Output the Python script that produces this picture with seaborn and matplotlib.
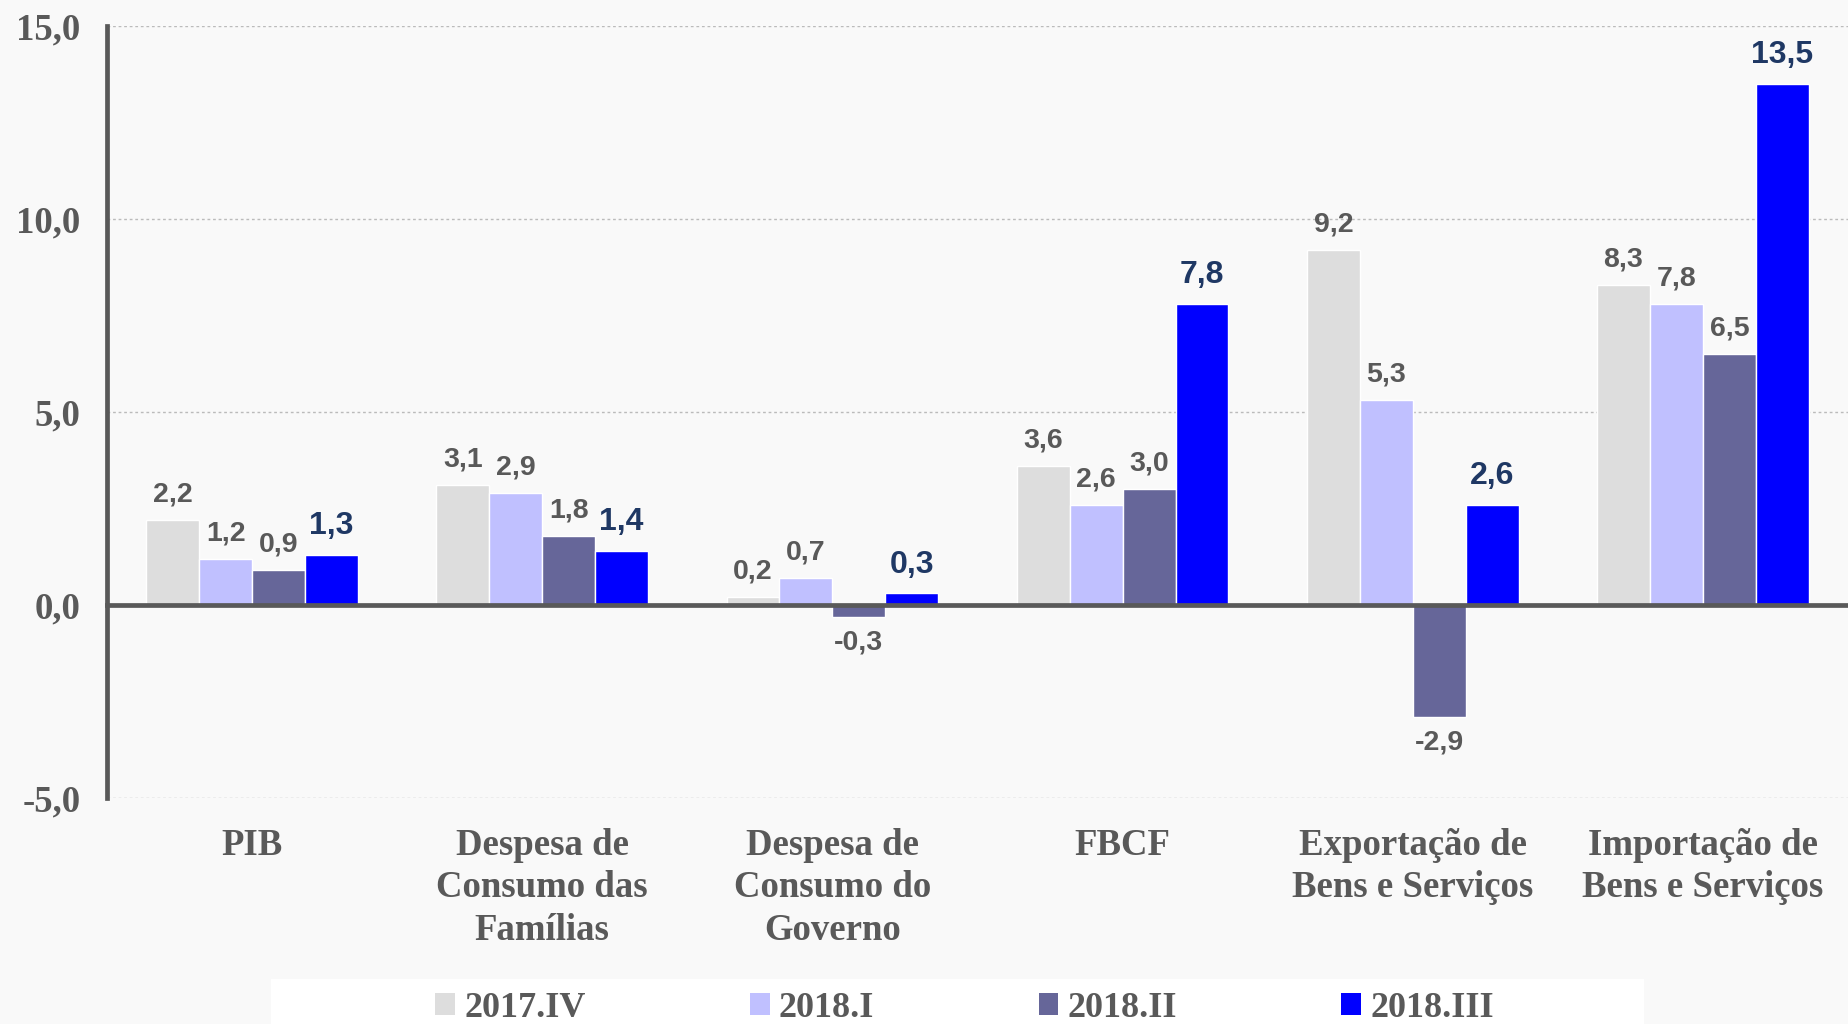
import pandas as pd
import matplotlib.pyplot as plt
import seaborn as sns
from matplotlib.transforms import blended_transform_factory
from matplotlib.patches import Rectangle, Patch

# ----------------------------------------------------------------------------------------------
# Data
# ----------------------------------------------------------------------------------------------
categorias = ["PIB", "Despesa de\nConsumo das\nFamílias", "Despesa de\nConsumo do\nGoverno",
              "FBCF", "Exportação de\nBens e Serviços", "Importação de\nBens e Serviços"]
trimestres = ["2017.IV", "2018.I", "2018.II", "2018.III"]
v_2017_iv = [2.2, 3.1, 0.2, 3.6, 9.2, 8.3]
v_2018_i = [1.2, 2.9, 0.7, 2.6, 5.3, 7.8]
v_2018_ii = [0.9, 1.8, -0.3, 3.0, -2.9, 6.5]
v_2018_iii = [1.3, 1.4, 0.3, 7.8, 2.6, 13.5]
y_ticks = [-5, 0, 5, 10, 15]

cores = ["#DDDDDD", "#C0C0FF", "#666699", "#0000FF"]
fundo = "#F9F9F9"
cinza = "#595959"
azul_escuro = "#1F3864"

# long format for seaborn
series = [v_2017_iv, v_2018_i, v_2018_ii, v_2018_iii]
df = pd.DataFrame({
    "categoria": categorias * len(trimestres),
    "trimestre": [t for t in trimestres for _ in categorias],
    "valor": [v for s in series for v in s],
})

def fmt(v):
    return f"{v:.1f}".replace(".", ",")

# ----------------------------------------------------------------------------------------------
# Plot
# ----------------------------------------------------------------------------------------------
sns.set_style("white")
serif = ["Liberation Serif", "DejaVu Serif"]
sans = ["Liberation Sans", "DejaVu Sans"]

fig = plt.figure(figsize=(18.48, 10.24), dpi=100, facecolor=fundo)
ax = fig.add_axes([107 / 1848, 1 - 798 / 1024, 1 - 107 / 1848, (798 - 26) / 1024])
ax.set_facecolor(fundo)

sns.barplot(data=df, x="categoria", y="valor", hue="trimestre", order=categorias,
            hue_order=trimestres, palette=cores, saturation=1, width=0.73,
            errorbar=None, legend=False, ax=ax)

ax.set_xlim(-0.5, 5.5)
ax.set_ylim(-5, 15)
ax.set_xlabel("")
ax.set_ylabel("")

# value labels
for i, cont in enumerate(ax.containers):
    vals = [fmt(v) for v in series[i]]
    if i == 3:
        ax.bar_label(cont, labels=vals, padding=10, fontsize=23, fontweight="bold",
                     color=azul_escuro, family=sans)
    else:
        ax.bar_label(cont, labels=vals, padding=9, fontsize=20.5, fontweight="bold",
                     color=cinza, family=sans)

# axes styling
for s in ["top", "right"]:
    ax.spines[s].set_visible(False)
ax.spines["left"].set_color(cinza)
ax.spines["left"].set_linewidth(3.4)
ax.spines["bottom"].set_position(("data", 0))
ax.spines["bottom"].set_color(cinza)
ax.spines["bottom"].set_linewidth(3.4)

ax.set_yticks(y_ticks)
ax.set_yticklabels([fmt(t) for t in y_ticks], family=serif, fontweight="bold",
                   fontsize=26.5, color=cinza)
ax.tick_params(axis="y", direction="out", length=7, width=3.2, color=cinza, pad=12)

ax.set_xticks(range(len(categorias)))
ax.set_xticks([x + 0.5 for x in range(len(categorias) - 1)], minor=True)
ax.tick_params(axis="x", which="major", length=0, labelbottom=False)
ax.tick_params(axis="x", which="minor", direction="out", length=8, width=3.2, color=cinza)

ax.grid(axis="y", color="#BBBBBB", linestyle=(0, (2, 2)), linewidth=1)
ax.set_axisbelow(True)

# category labels below the plot
trans = blended_transform_factory(ax.transData, ax.transAxes)
for x, c in enumerate(categorias):
    ax.text(x, -0.039, c, transform=trans, ha="center", va="top", family=serif,
            fontweight="bold", fontsize=26.5, color=cinza, linespacing=1.27)

# legend on white strip
fig.patches.append(Rectangle((271 / 1848, 0), (1644 - 271) / 1848, 45 / 1024,
                             transform=fig.transFigure, facecolor="white",
                             edgecolor="none", zorder=0))
handles = [Patch(facecolor=c, edgecolor="none") for c in cores]
fig.legend(handles, trimestres, loc="center", bbox_to_anchor=(0.522, 0.015), ncol=4,
           frameon=False, handlelength=0.55, handleheight=0.55, handletextpad=0.25,
           columnspacing=4.55, prop={"family": serif, "weight": "bold", "size": 26},
           labelcolor=cinza, borderpad=0)

plt.savefig("out.png", dpi=100, facecolor=fundo)
plt.close()
